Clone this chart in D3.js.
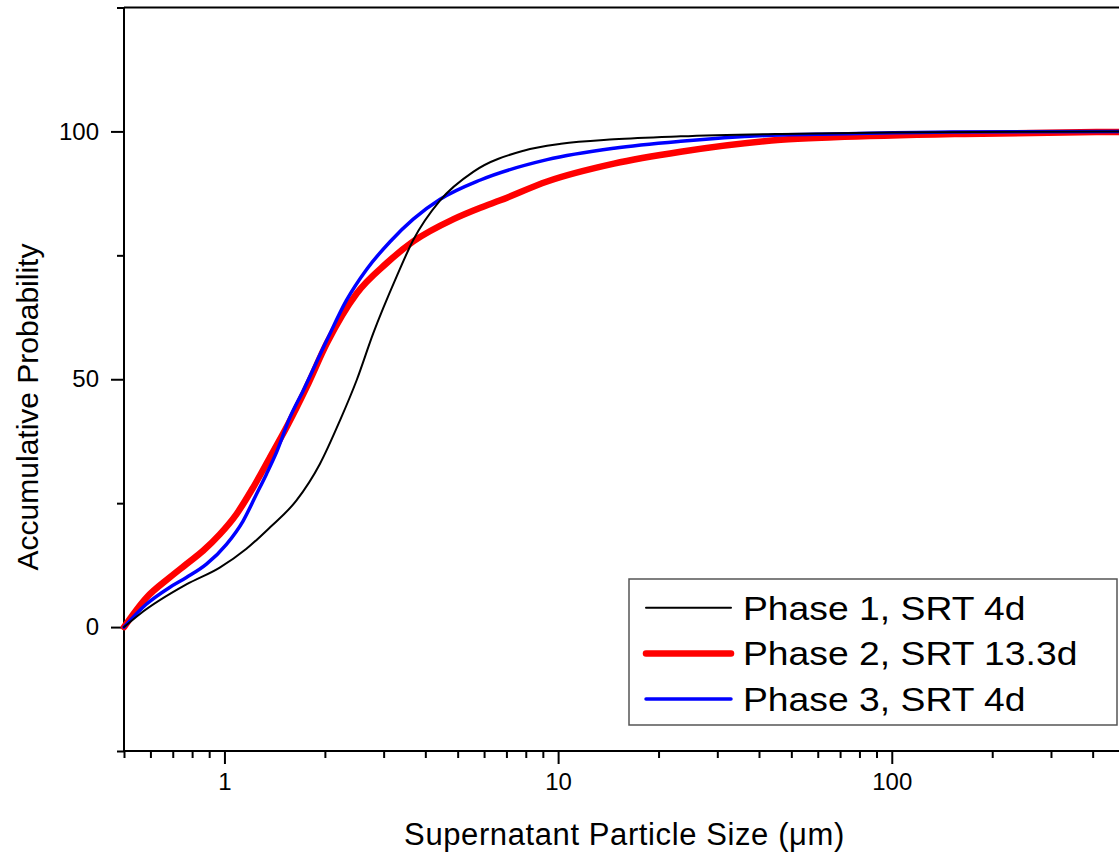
<!DOCTYPE html>
<html>
<head>
<meta charset="utf-8">
<script src="https://cdn.jsdelivr.net/npm/d3@7"></script>
<style>
  html, body { margin: 0; padding: 0; background: #fff; overflow: hidden; }
  svg { display: block; font-family: Arial, "Liberation Sans", sans-serif; }
</style>
</head>
<body>
<svg id="chart" width="1119" height="852"></svg>
<script>
// ---- Data ----
const seriesNames = ["Phase 1, SRT 4d", "Phase 2, SRT 13.3d", "Phase 3, SRT 4d"];
const seriesColors = ["#000000", "#ff0000", "#0000ff"];

const phase1Size = [0.5, 0.557, 0.769, 0.968, 1.164, 1.368, 1.642, 1.932, 2.22, 2.49, 2.79, 3.28, 3.68, 4.43, 5.58, 7.88, 10.2, 14.7, 23.3, 46.5, 100, 480];
const phase1Prob = [0, 2.6, 8.6, 12.0, 15.8, 20.1, 25.5, 32.9, 41.7, 49.8, 59.2, 70.7, 78.1, 86.1, 91.9, 96.1, 97.5, 98.4, 99.0, 99.5, 99.8, 100];

const phase2Size = [0.5, 0.583, 0.685, 0.769, 0.863, 0.968, 1.087, 1.22, 1.368, 1.535, 1.763, 2.025, 2.49, 3.06, 3.68, 4.86, 5.85, 6.71, 9.27, 14.7, 23.3, 46.5, 67, 165, 480];
const phase2Prob = [0, 5.9, 10.0, 12.7, 15.4, 18.7, 22.8, 28.2, 34.2, 40.3, 48.4, 57.2, 67.3, 73.4, 77.8, 82.3, 84.6, 86.1, 89.9, 93.5, 95.9, 98.3, 98.8, 99.5, 99.9];

const phase3Size = [0.5, 0.583, 0.685, 0.769, 0.883, 1.014, 1.137, 1.247, 1.337, 1.433, 1.571, 1.722, 2.025, 2.32, 2.67, 3.14, 3.68, 4.43, 5.85, 9.27, 14.7, 23.3, 46.5, 67, 150, 480];
const phase3Prob = [0, 4.6, 8.0, 10.0, 12.7, 16.7, 21.4, 26.8, 30.9, 35.3, 42.3, 47.7, 57.8, 65.9, 72.2, 77.8, 82.3, 86.3, 90.2, 94.3, 96.6, 98.0, 99.3, 99.5, 99.9, 100];

const xMajorTicks = [1, 10, 100];
const xMinorTicks = [0.5, 0.6, 0.7, 0.8, 0.9, 2, 3, 4, 5, 6, 7, 8, 9, 20, 30, 40, 50, 60, 70, 80, 90, 200, 300, 400, 500];
const yMajorTicks = [0, 50, 100];
const yMinorTicks = [-25, 25, 75, 125];

const xLabel = "Supernatant Particle Size (\u03bcm)";
const yLabel = "Accumulative Probability";

// ---- Layout ----
const svg = d3.select("#chart");
const L = 124, R = 1125, T = 7.5, B = 751;

const x = d3.scaleLog().domain([0.5, 500]).range([L, R]);
const y = d3.scaleLinear().domain([-25, 125]).range([B, T]);

// frame lines
svg.append("line").attr("x1", L).attr("x2", R).attr("y1", T).attr("y2", T)
  .attr("stroke", "#000").attr("stroke-width", 2);
svg.append("line").attr("x1", R).attr("x2", R).attr("y1", T).attr("y2", B)
  .attr("stroke", "#000").attr("stroke-width", 2);

// X axis
const gx = svg.append("g").attr("transform", `translate(0,${B})`);
gx.call(d3.axisBottom(x).tickValues(xMinorTicks).tickSize(7).tickFormat(""));
const gxM = svg.append("g").attr("transform", `translate(0,${B})`);
gxM.call(d3.axisBottom(x).tickValues(xMajorTicks).tickSize(13).tickPadding(9).tickFormat(d3.format("d")));
[gx, gxM].forEach(g => {
  g.select(".domain").attr("stroke-width", 2).attr("d", `M${L},0H${R}`);
  g.selectAll(".tick line").attr("stroke-width", 2);
  g.selectAll("text").attr("font-size", 24).attr("fill", "#000")
    .attr("font-family", "Arial, 'Liberation Sans', sans-serif");
});
gxM.select(".domain").remove();

// Y axis
const gy = svg.append("g").attr("transform", `translate(${L},0)`);
gy.call(d3.axisLeft(y).tickValues(yMinorTicks).tickSize(7).tickFormat(""));
const gyM = svg.append("g").attr("transform", `translate(${L},0)`);
gyM.call(d3.axisLeft(y).tickValues(yMajorTicks).tickSize(13).tickPadding(12).tickFormat(d3.format("d")));
[gy, gyM].forEach(g => {
  g.select(".domain").attr("stroke-width", 2).attr("d", `M0,${T}V${B}`);
  g.selectAll(".tick line").attr("stroke-width", 2);
  g.selectAll("text").attr("font-size", 24).attr("fill", "#000")
    .attr("font-family", "Arial, 'Liberation Sans', sans-serif");
});
gyM.select(".domain").remove();

// Axis titles
svg.append("text").attr("x", (L + R) / 2).attr("y", 845)
  .attr("text-anchor", "middle").attr("font-size", 31).attr("letter-spacing", 0.6).text(xLabel);
svg.append("text").attr("transform", `translate(38,407) rotate(-90)`)
  .attr("text-anchor", "middle").attr("font-size", 30).text(yLabel);

// Curves
const line = d3.line().x(d => x(d[0])).y(d => y(d[1])).curve(d3.curveMonotoneX);
const series = [
  { size: phase2Size, prob: phase2Prob, color: seriesColors[1], w: 6.5 },
  { size: phase3Size, prob: phase3Prob, color: seriesColors[2], w: 3.5 },
  { size: phase1Size, prob: phase1Prob, color: seriesColors[0], w: 2 }
];
const plot = svg.append("g");
series.forEach(s => {
  plot.append("path")
    .datum(s.size.map((v, i) => [v, s.prob[i]]))
    .attr("fill", "none").attr("stroke", s.color).attr("stroke-width", s.w)
    .attr("stroke-linejoin", "round").attr("stroke-linecap", "round")
    .attr("d", line);
});

// Legend
const lg = svg.append("g");
lg.append("rect").attr("x", 629).attr("y", 579).attr("width", 488).attr("height", 146)
  .attr("fill", "#fff").attr("stroke", "#555").attr("stroke-width", 1.5);
const legendW = [2, 6.5, 3.5];
seriesNames.forEach((name, i) => {
  const yy = 607.7 + i * 45.7;
  lg.append("line").attr("x1", 646).attr("x2", 731).attr("y1", yy).attr("y2", yy)
    .attr("stroke", seriesColors[i]).attr("stroke-width", legendW[i]).attr("stroke-linecap", "round");
  lg.append("text").attr("transform", `translate(743,${yy + 12}) scale(1.13,1)`)
    .attr("font-size", 33).text(name);
});
</script>
</body>
</html>
